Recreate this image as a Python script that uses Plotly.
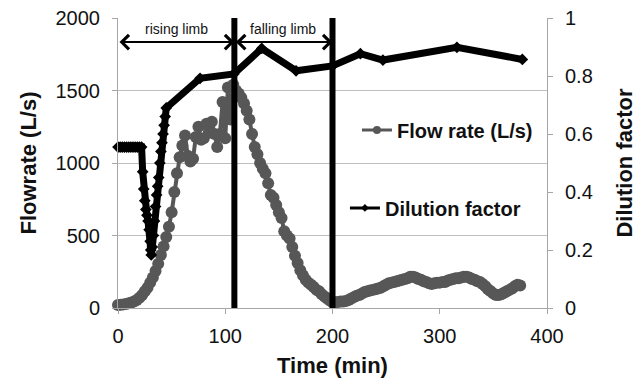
import plotly.graph_objects as go

# ---- data ----
time_flow = [0, 2.5, 5, 7.5, 10, 12.5, 15, 17.5, 20, 22.5, 25, 27.5, 30, 32.5, 35, 37.5, 40, 42.5, 45, 47.5,
             50, 52.5, 55, 57.5, 60, 62.5, 65, 67.5, 70, 72.5, 75, 77.5, 80, 82.5, 85, 87.5, 90, 92.5, 95, 97.5,
             100, 102.5, 105, 107.5, 110, 112.5, 115, 117.5, 120, 122.5, 125, 127.5, 130, 132.5, 135, 137.5,
             140, 142.5, 145, 147.5, 150, 152.5, 155, 157.5, 160, 162.5, 165, 167.5, 170, 172.5, 175, 177.5,
             180, 182.5, 185, 187.5, 190, 192.5, 195, 197.5, 200, 202.5, 205, 207.5, 210, 212.5, 215, 217.5,
             220, 222.5, 225, 227.5, 230, 232.5, 235, 237.5, 240, 242.5, 245, 247.5, 250, 252.5, 255, 257.5,
             260, 262.5, 265, 267.5, 270, 272.5, 275, 277.5, 280, 282.5, 285, 287.5, 290, 292.5, 295, 297.5,
             300, 302.5, 305, 307.5, 310, 312.5, 315, 317.5, 320, 322.5, 325, 327.5, 330, 332.5, 335, 337.5,
             340, 342.5, 345, 347.5, 350, 352.5, 355, 357.5, 360, 362.5, 365, 367.5, 370, 372.5, 375]
flow_rate = [20, 22, 25, 28, 32, 38, 45, 55, 70, 90, 115, 140, 175, 210, 255, 305, 365, 425, 490, 560,
             660, 800, 930, 1040, 1120, 1190, 1050, 1010, 1030, 1180, 1250, 1160, 1170, 1270, 1210, 1285, 1200, 1110, 1200, 1420,
             1170, 1520, 1300, 1540, 1500, 1480, 1450, 1410, 1360, 1300, 1200, 1110, 1060, 1000, 960, 930,
             860, 780, 760, 710, 660, 620, 530, 500, 480, 420, 360, 310, 260, 225, 195, 175,
             160, 145, 125, 115, 95, 80, 65, 52, 42, 40, 42, 45, 45, 48, 55, 65,
             75, 85, 90, 100, 110, 115, 120, 125, 130, 135, 140, 150, 160, 170, 175, 180,
             185, 190, 195, 200, 205, 215, 215, 210, 200, 195, 185, 180, 170, 165, 170, 175,
             175, 180, 180, 190, 195, 200, 205, 205, 210, 215, 215, 210, 200, 195, 185, 180,
             165, 150, 130, 115, 100, 90, 90, 95, 105, 115, 125, 135, 150, 160, 155]

time_dil = [0, 2, 4, 6, 8, 10, 12, 14, 16, 18, 20, 22, 23, 24, 25, 26, 27, 28, 29, 30, 30.5, 31,
            32, 33, 34, 35, 36, 37, 38, 39, 40, 41, 42, 43, 44, 45,
            76.5, 108, 134, 166, 200, 226, 247, 316, 377]
dilution = [0.555, 0.555, 0.555, 0.555, 0.555, 0.555, 0.555, 0.555, 0.555, 0.555, 0.555, 0.555,
            0.47, 0.41, 0.37, 0.34, 0.32, 0.30, 0.27, 0.23, 0.20, 0.183,
            0.21, 0.25, 0.30, 0.35, 0.39, 0.42, 0.45, 0.50, 0.54, 0.57, 0.60, 0.63, 0.66, 0.69,
            0.792, 0.807, 0.895, 0.818, 0.835, 0.877, 0.855, 0.899, 0.857]

limb_bounds = [0, 108.5, 200]
limb_labels = ["rising limb", "falling limb"]
arrow_level = 1834
label_level = 1925

FONT = "Liberation Sans, Arial, sans-serif"
FLOW_COLOR = "#575757"

fig = go.Figure()

fig.add_trace(go.Scatter(
    x=time_flow, y=flow_rate, mode="lines+markers", showlegend=False,
    line=dict(color=FLOW_COLOR, width=4),
    marker=dict(color=FLOW_COLOR, size=12, symbol="circle"),
    cliponaxis=False, yaxis="y"))

fig.add_trace(go.Scatter(
    x=time_dil, y=dilution, mode="lines+markers", showlegend=False,
    line=dict(color="black", width=7),
    marker=dict(color="black", size=9, symbol="diamond"),
    cliponaxis=False, yaxis="y2"))

# legend entries
fig.add_trace(go.Scatter(
    x=[None], y=[None], mode="lines+markers", name="Flow rate (L/s)",
    line=dict(color=FLOW_COLOR, width=3),
    marker=dict(color=FLOW_COLOR, size=8, symbol="circle"), legend="legend"))
fig.add_trace(go.Scatter(
    x=[None], y=[None], mode="lines+markers", name="Dilution factor",
    line=dict(color="black", width=3),
    marker=dict(color="black", size=6, symbol="diamond"), legend="legend2", yaxis="y2"))

# vertical limb separators
for xv in limb_bounds[1:]:
    fig.add_shape(type="line", x0=xv, x1=xv, y0=0, y1=1, xref="x", yref="y domain",
                  line=dict(color="black", width=6), layer="above")

# double-headed arrows and labels
for i, lab in enumerate(limb_labels):
    a, b = limb_bounds[i], limb_bounds[i + 1]
    fig.add_annotation(x=b, y=arrow_level, ax=a, ay=arrow_level, xref="x", yref="y",
                       axref="x", ayref="y", text="", showarrow=True,
                       arrowhead=4, startarrowhead=4, arrowside="end+start",
                       arrowwidth=2, arrowsize=1.4, startarrowsize=1.4,
                       arrowcolor="black", standoff=0, startstandoff=0)
    fig.add_annotation(x=(a + b) / 2, y=label_level, xref="x", yref="y", text=lab,
                       showarrow=False, font=dict(family=FONT, size=14, color="#111111"))

axis_common = dict(showline=True, linecolor="#a6a6a6", linewidth=1, ticks="outside",
                   ticklen=5, tickcolor="#a6a6a6", tickfont=dict(family=FONT, size=20, color="#111111"),
                   zeroline=False, automargin=False)
title_font = dict(family=FONT, size=22, color="#111111", weight="bold")

fig.update_layout(
    width=642, height=382, margin=dict(l=118, r=95, t=18, b=74, autoexpand=False),
    paper_bgcolor="white", plot_bgcolor="white",
    xaxis=dict(range=[0, 400], dtick=100, showgrid=False,
               title=dict(text="Time (min)", font=title_font, standoff=11),
               ticklabelstandoff=5, **axis_common),
    yaxis=dict(range=[0, 2000], dtick=500, showgrid=True, gridcolor="#bfbfbf", gridwidth=1,
               title=dict(text="Flowrate (L/s)", font=title_font, standoff=12),
               ticklabelstandoff=8, **axis_common),
    yaxis2=dict(range=[0, 1], dtick=0.2, overlaying="y", side="right", showgrid=False,
                title=dict(text="Dilution factor", font=title_font, standoff=24),
                ticklabelstandoff=8, **axis_common),
    legend=dict(x=0.557, y=0.614, xanchor="left", yanchor="middle", bgcolor="rgba(0,0,0,0)",
                font=dict(family=FONT, size=20, color="#111111", weight="bold")),
    legend2=dict(x=0.529, y=0.345, xanchor="left", yanchor="middle", bgcolor="rgba(0,0,0,0)",
                 font=dict(family=FONT, size=20, color="#111111", weight="bold")),
)

fig.write_html("out.html")
